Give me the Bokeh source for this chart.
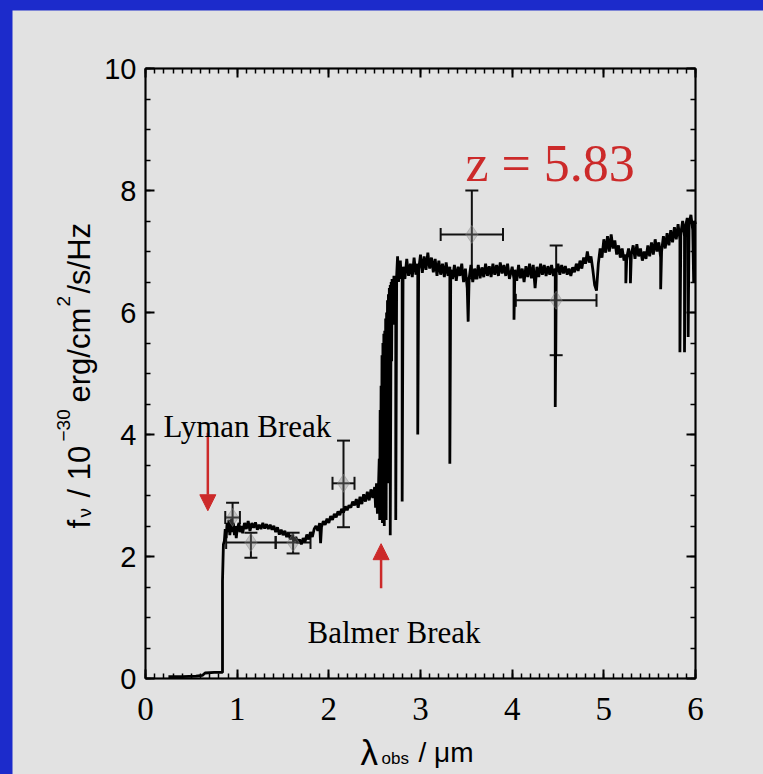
from bokeh.plotting import figure
from bokeh.models import (Label, Whisker, TeeHead, Arrow, NormalHead, LinearAxis,
                          SingleIntervalTicker, ColumnDataSource, Range1d, BoxAnnotation)
from bokeh.layouts import column
from bokeh.embed import file_html
from bokeh.resources import INLINE

# ---------------- data ----------------
spec_pts = [
    (0.25, 0.03), (0.40, 0.03), (0.55, 0.04), (0.62, 0.05), (0.65, 0.09), (0.75, 0.10), (0.83, 0.10),
    (0.84, 0.10), (0.84, 1.60), (0.85, 2.20), (0.86, 2.25), (0.87, 2.45), (0.88, 2.30), (0.89, 2.55),
    (0.90, 2.40), (0.91, 2.60), (0.92, 2.35), (0.93, 2.50), (0.94, 2.62), (0.95, 2.40), (0.96, 2.55),
    (0.97, 2.35), (0.98, 2.50), (0.99, 2.30), (1.00, 2.45), (1.02, 2.55), (1.03, 2.40), (1.05, 2.50),
    (1.06, 2.38), (1.08, 2.55), (1.10, 2.45), (1.12, 2.58), (1.14, 2.42), (1.16, 2.55), (1.18, 2.47),
    (1.20, 2.56), (1.22, 2.44), (1.24, 2.52), (1.26, 2.45), (1.28, 2.55), (1.30, 2.46), (1.32, 2.53),
    (1.34, 2.45), (1.36, 2.52), (1.38, 2.44), (1.40, 2.50), (1.42, 2.40), (1.44, 2.48), (1.46, 2.36),
    (1.48, 2.44), (1.50, 2.35), (1.52, 2.42), (1.54, 2.32), (1.56, 2.38), (1.58, 2.28), (1.60, 2.35),
    (1.62, 2.25), (1.64, 2.32), (1.66, 2.22), (1.68, 2.28), (1.70, 2.20), (1.72, 2.30), (1.74, 2.24),
    (1.76, 2.36), (1.78, 2.28), (1.80, 2.40), (1.82, 2.32), (1.84, 2.45), (1.86, 2.50), (1.88, 2.42),
    (1.90, 2.55), (1.91, 2.22), (1.92, 2.48), (1.94, 2.58), (1.96, 2.52), (1.98, 2.62), (2.00, 2.55),
    (2.02, 2.66), (2.04, 2.60), (2.06, 2.70), (2.08, 2.64), (2.10, 2.74), (2.12, 2.68), (2.14, 2.78),
    (2.16, 2.72), (2.18, 2.82), (2.20, 2.76), (2.22, 2.84), (2.24, 2.80), (2.26, 2.90), (2.28, 2.84),
    (2.30, 2.94), (2.32, 2.80), (2.34, 2.98), (2.36, 2.86), (2.38, 3.02), (2.40, 2.90), (2.42, 3.06),
    (2.44, 2.92), (2.46, 3.10), (2.48, 2.96), (2.50, 3.14), (2.51, 2.80), (2.52, 3.20), (2.53, 2.70),
    (2.54, 3.05), (2.55, 3.60), (2.555, 2.60), (2.56, 4.40), (2.565, 2.70), (2.57, 4.80), (2.575, 3.00),
    (2.58, 5.30), (2.585, 2.55), (2.59, 5.50), (2.595, 3.20), (2.60, 5.65), (2.605, 2.50), (2.61, 5.70),
    (2.615, 3.80), (2.62, 5.90), (2.625, 2.60), (2.63, 6.00), (2.635, 4.70), (2.64, 6.20), (2.645, 3.20),
    (2.65, 6.30), (2.655, 5.00), (2.66, 6.40), (2.665, 4.60), (2.67, 6.45), (2.67, 2.35), (2.68, 6.50),
    (2.685, 5.20), (2.69, 6.55), (2.70, 5.80), (2.71, 6.60), (2.72, 6.30), (2.73, 6.60), (2.73, 2.60),
    (2.74, 6.60), (2.75, 6.92), (2.76, 6.50), (2.78, 6.85), (2.79, 6.55),
    (2.80, 6.70), (2.80, 2.90), (2.81, 6.75),
    (2.83, 6.55), (2.85, 6.88), (2.87, 6.60), (2.89, 6.80), (2.91, 6.58), (2.93, 6.90), (2.95, 6.62),
    (2.97, 6.80), (2.97, 4.00), (2.98, 6.70),
    (3.00, 6.95), (3.02, 6.65), (3.04, 6.92), (3.06, 6.70), (3.08, 6.98), (3.10, 6.72), (3.12, 6.90),
    (3.14, 6.66), (3.16, 6.88), (3.18, 6.60), (3.20, 6.85), (3.22, 6.62), (3.24, 6.80), (3.26, 6.58),
    (3.28, 6.82), (3.30, 6.60),
    (3.32, 6.75), (3.32, 3.52), (3.33, 6.70),
    (3.35, 6.55), (3.37, 6.78), (3.39, 6.52), (3.41, 6.75), (3.43, 6.60), (3.45, 6.80), (3.47, 6.50),
    (3.49, 6.72), (3.51, 6.40), (3.52, 5.85), (3.53, 6.55),
    (3.55, 6.78), (3.57, 6.50), (3.59, 6.72), (3.61, 6.55), (3.63, 6.78), (3.65, 6.56), (3.67, 6.74),
    (3.69, 6.58), (3.71, 6.80), (3.73, 6.60), (3.75, 6.76), (3.77, 6.58), (3.79, 6.80), (3.81, 6.62),
    (3.83, 6.78), (3.85, 6.60), (3.87, 6.82), (3.89, 6.64), (3.91, 6.78), (3.93, 6.60), (3.95, 6.80),
    (3.97, 6.55), (4.00, 6.75), (4.02, 6.55), (4.02, 5.88), (4.03, 6.70),
    (4.05, 6.52), (4.07, 6.78), (4.09, 6.56), (4.11, 6.72), (4.13, 6.50), (4.15, 6.76), (4.17, 6.58),
    (4.19, 6.80), (4.21, 6.56), (4.23, 6.78), (4.25, 6.40), (4.27, 6.75), (4.29, 6.58), (4.31, 6.80),
    (4.33, 6.62), (4.35, 6.78), (4.37, 6.60), (4.39, 6.76), (4.41, 6.62), (4.43, 6.78), (4.45, 6.60),
    (4.47, 6.72), (4.47, 4.45), (4.48, 6.65),
    (4.50, 6.80), (4.52, 6.62), (4.54, 6.78), (4.56, 6.64), (4.58, 6.76), (4.60, 6.62), (4.62, 6.72),
    (4.64, 6.60), (4.66, 6.74), (4.68, 6.66), (4.70, 6.80), (4.72, 6.68), (4.74, 6.85), (4.76, 6.72),
    (4.78, 6.90), (4.80, 6.80), (4.82, 7.00), (4.84, 6.82), (4.86, 6.92), (4.88, 6.70), (4.90, 6.45),
    (4.92, 6.36), (4.94, 6.80),
    (4.96, 7.05), (4.98, 6.90), (5.00, 7.20), (5.02, 6.98), (5.04, 7.25), (5.06, 7.00), (5.08, 7.28),
    (5.10, 7.05), (5.12, 7.18), (5.14, 6.95), (5.16, 7.10), (5.18, 6.90), (5.20, 7.05), (5.22, 6.85),
    (5.24, 6.95), (5.24, 6.48), (5.25, 6.90), (5.27, 7.05), (5.29, 6.85), (5.29, 6.48), (5.30, 6.95),
    (5.32, 7.10), (5.34, 6.88), (5.36, 7.12), (5.38, 6.92), (5.40, 7.05), (5.42, 6.85), (5.44, 7.00),
    (5.46, 6.88), (5.48, 7.10), (5.50, 6.92), (5.52, 7.15), (5.54, 6.95), (5.56, 7.20), (5.58, 7.00),
    (5.60, 7.15), (5.62, 6.90), (5.62, 6.38), (5.63, 7.00),
    (5.65, 7.25), (5.67, 7.05), (5.69, 7.30), (5.71, 7.10), (5.73, 7.35), (5.75, 7.15), (5.77, 7.40),
    (5.79, 7.20), (5.81, 7.45),
    (5.83, 7.20), (5.83, 5.35), (5.84, 7.30), (5.86, 7.50), (5.88, 7.25), (5.88, 5.35), (5.89, 7.40),
    (5.91, 7.55), (5.92, 7.30), (5.92, 5.60), (5.93, 7.45), (5.95, 7.60), (5.97, 7.35), (5.98, 6.50),
    (5.99, 7.50), (6.00, 7.45),
]
spec_wl = [a for a, b in spec_pts]
spec_flux = [b for a, b in spec_pts]

phot_x = [0.95, 1.15, 1.61, 2.16, 3.56, 4.48]
phot_y = [2.64, 2.23, 2.23, 3.20, 7.28, 6.20]
phot_xlo = [0.87, 0.88, 1.42, 2.04, 3.22, 4.04]
phot_xhi = [1.03, 1.42, 1.80, 2.28, 3.90, 4.92]
phot_ylo = [2.46, 1.98, 2.05, 2.48, 6.56, 5.30]
phot_yhi = [2.88, 2.39, 2.39, 3.90, 8.00, 7.10]

x_lim = (0, 6)
y_lim = (0, 10)
x_ticks_interval = 1
y_ticks_interval = 2

# ---------------- styling ----------------
GRAY = "#e2e2e2"
BLUE = "#1c2bcb"
RED = "#cc2a2a"
SERIF = "Liberation Serif"
SANS = "Liberation Sans"

# The frame spans the whole canvas; the axes sit at fixed data locations so that
# the axis-title pieces (Labels) fall inside the frame.
PX_PER_X = 91.667
PX_PER_Y = 61.0
FW, FH = 751, 764
x0 = -133 / PX_PER_X
y0 = -96 / PX_PER_Y

p = figure(frame_width=FW, frame_height=FH,
           x_range=Range1d(x0, x0 + FW / PX_PER_X), y_range=Range1d(y0, y0 + FH / PX_PER_Y),
           x_axis_type=None, y_axis_type=None,
           output_backend="svg", toolbar_location=None, min_border=0,
           background_fill_color=GRAY, border_fill_color=GRAY,
           outline_line_color=None)
p.margin = (10, 0, 0, 12)


def make_axis(interval, minor, loc, bounds, show_labels, font, size, standoff):
    ax = LinearAxis(ticker=SingleIntervalTicker(interval=interval, num_minor_ticks=minor),
                    fixed_location=loc, bounds=bounds)
    ax.axis_line_width = 2
    ax.major_tick_in = 9
    ax.major_tick_out = 0
    ax.minor_tick_in = 5
    ax.minor_tick_out = 0
    ax.major_tick_line_width = 2
    ax.minor_tick_line_width = 1.5
    ax.major_label_standoff = standoff
    if show_labels:
        ax.major_label_text_font = font
        ax.major_label_text_font_size = size
        ax.major_label_text_color = "black"
    else:
        ax.major_label_overrides = {i: "" for i in range(0, 11)}
        ax.major_label_text_font_size = "1px"
    return ax


p.add_layout(make_axis(x_ticks_interval, 10, y_lim[0], x_lim, True, SERIF, "33px", 19), "below")
p.add_layout(make_axis(x_ticks_interval, 10, y_lim[1], x_lim, False, SERIF, "31px", 0), "above")
p.add_layout(make_axis(y_ticks_interval, 4, x_lim[0], y_lim, True, SANS, "29px", 9), "left")
p.add_layout(make_axis(y_ticks_interval, 4, x_lim[1], y_lim, False, SANS, "29px", 0), "right")
p.add_layout(BoxAnnotation(left=x_lim[0], right=x_lim[1], bottom=y_lim[0], top=y_lim[1],
                           fill_alpha=0, line_color="black", line_width=2))

# spectrum
p.line(spec_wl, spec_flux, line_color="black", line_width=2.8)

# photometry
src = ColumnDataSource(dict(x=phot_x, y=phot_y, xlo=phot_xlo, xhi=phot_xhi,
                            ylo=phot_ylo, yhi=phot_yhi))
p.scatter("x", "y", source=src, marker="diamond", size=18,
          fill_color="#8a8a8a", fill_alpha=0.35, line_color="#8a8a8a", line_alpha=0.45)
wy = Whisker(source=src, base="x", lower="ylo", upper="yhi", dimension="height",
             line_color="#111111", line_width=2,
             upper_head=TeeHead(size=13, line_width=2, line_color="#111111"),
             lower_head=TeeHead(size=13, line_width=2, line_color="#111111"))
wx = Whisker(source=src, base="y", lower="xlo", upper="xhi", dimension="width",
             line_color="#111111", line_width=2,
             upper_head=TeeHead(size=13, line_width=2, line_color="#111111"),
             lower_head=TeeHead(size=13, line_width=2, line_color="#111111"))
p.add_layout(wy)
p.add_layout(wx)

# arrows
p.add_layout(Arrow(x_start=0.68, y_start=4.03, x_end=0.68, y_end=2.75,
                   line_color=RED, line_width=2.5,
                   end=NormalHead(size=16, fill_color=RED, line_color=RED)))
p.add_layout(Arrow(x_start=2.57, y_start=1.48, x_end=2.57, y_end=2.21,
                   line_color=RED, line_width=2.5,
                   end=NormalHead(size=16, fill_color=RED, line_color=RED)))


# annotations
def lab(x, y, text, font, size, color="black", angle=0.0):
    p.add_layout(Label(x=x, y=y, text=text, text_font=font, text_font_size=size,
                       text_color=color, text_align="left", text_baseline="alphabetic",
                       angle=angle))


lab(0.196, 4.13, "Lyman Break", SERIF, "31px")
lab(1.767, 0.754, "Balmer Break", SERIF, "31px")
lab(3.49, 8.44, "z = 5.83", SERIF, "52px", RED)

# x-axis title pieces
lab(2.345, -1.213, "λ", SANS, "35px")
lab(2.575, -1.311, "obs", SANS, "17px")
lab(2.978, -1.213, "/ μm", SANS, "28px")

# y-axis title pieces (rotated)
A = 1.5707963
lab(-0.72, 2.459, "f", SANS, "31px", angle=A)
lab(-0.665, 2.639, "ν", SANS, "19px", angle=A)
lab(-0.72, 2.967, "/ 10", SANS, "31px", angle=A)
lab(-0.894, 3.885, "−30", SANS, "19px", angle=A)
lab(-0.72, 4.525, "erg/cm", SANS, "31px", angle=A)
lab(-0.894, 6.098, "2", SANS, "19px", angle=A)
lab(-0.72, 6.311, "/s/Hz", SANS, "31px", angle=A)

layout = column(p, styles={"background-color": BLUE})

with open("out.html", "w") as f:
    f.write(file_html(layout, INLINE))
